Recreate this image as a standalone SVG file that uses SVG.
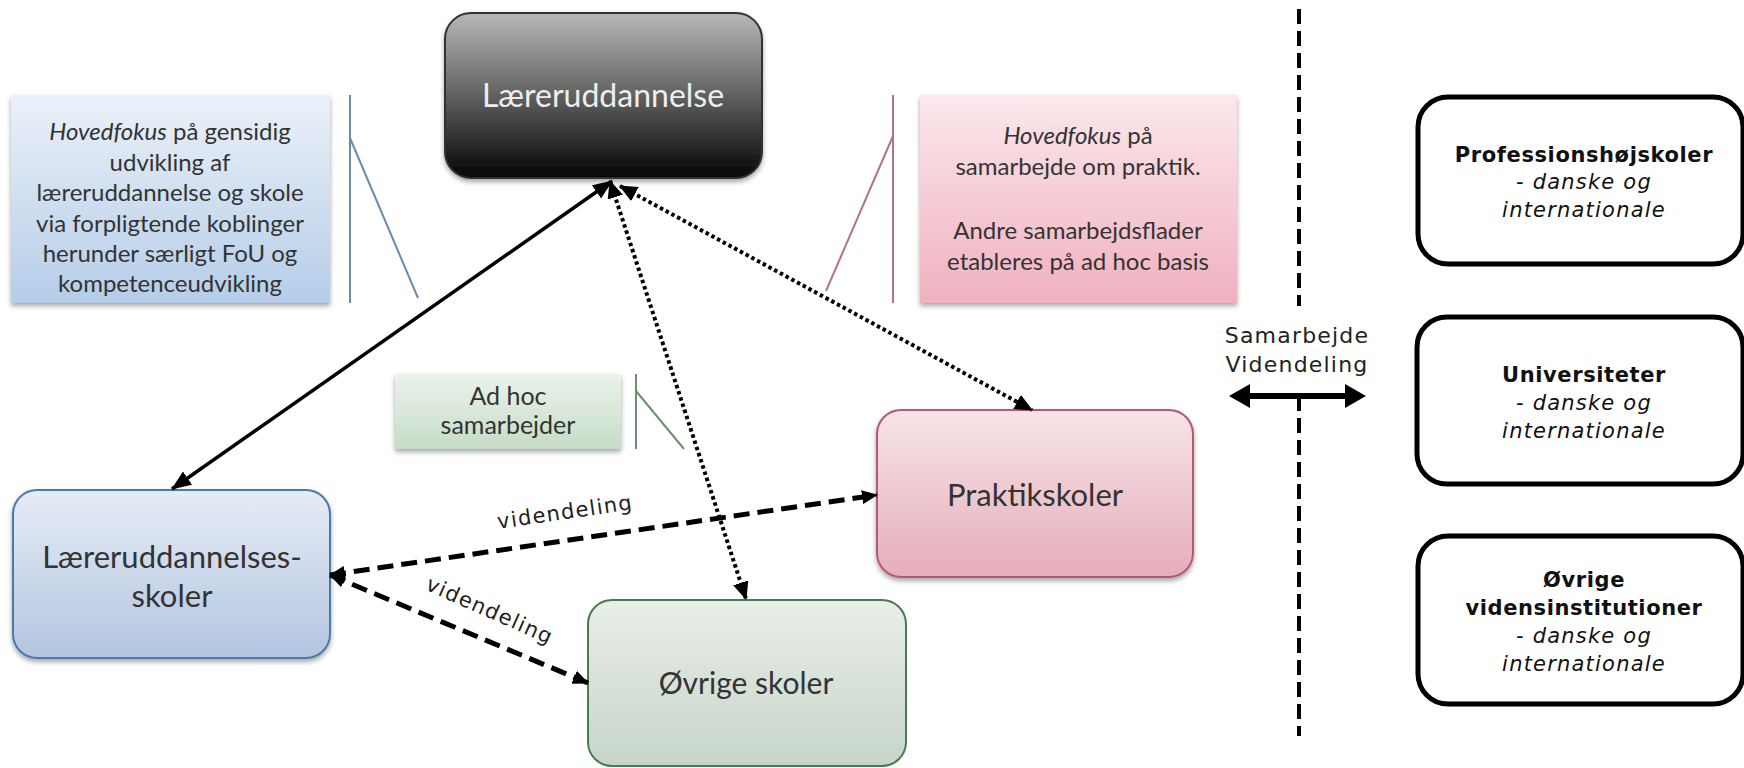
<svg xmlns="http://www.w3.org/2000/svg" width="1744" height="768" viewBox="0 0 1744 768">
<defs>
<linearGradient id="gBlack" x1="0" y1="0" x2="0" y2="1"><stop offset="0" stop-color="#b8b8b8"/><stop offset="0.45" stop-color="#6a6a6a"/><stop offset="1" stop-color="#050505"/></linearGradient>
<linearGradient id="gBlue" x1="0" y1="0" x2="0" y2="1"><stop offset="0" stop-color="#e6ecf6"/><stop offset="1" stop-color="#b2c5e0"/></linearGradient>
<linearGradient id="gPink" x1="0" y1="0" x2="0" y2="1"><stop offset="0" stop-color="#f7e4e8"/><stop offset="1" stop-color="#e6adb9"/></linearGradient>
<linearGradient id="gGreen" x1="0" y1="0" x2="0" y2="1"><stop offset="0" stop-color="#e9eee9"/><stop offset="1" stop-color="#c7d5c8"/></linearGradient>
<linearGradient id="nBlue" x1="0" y1="0" x2="0" y2="1"><stop offset="0" stop-color="#ebf1f9"/><stop offset="1" stop-color="#b5cde8"/></linearGradient>
<linearGradient id="nPink" x1="0" y1="0" x2="0" y2="1"><stop offset="0" stop-color="#fbe8ec"/><stop offset="1" stop-color="#f0b1bf"/></linearGradient>
<linearGradient id="nGreen" x1="0" y1="0" x2="0" y2="1"><stop offset="0" stop-color="#ecf3ec"/><stop offset="1" stop-color="#c5dcc6"/></linearGradient>
<filter id="sh" x="-10%" y="-10%" width="125%" height="130%"><feDropShadow dx="0" dy="3" stdDeviation="2.5" flood-color="#000" flood-opacity="0.35"/></filter>
<marker id="aS" viewBox="0 0 20 16" refX="19" refY="8" markerWidth="20" markerHeight="16" markerUnits="userSpaceOnUse" orient="auto-start-reverse"><path d="M0,0 L20,8 L0,16 z" fill="#000"/></marker>
<marker id="aD" viewBox="0 0 18 16" refX="17" refY="8" markerWidth="18" markerHeight="16" markerUnits="userSpaceOnUse" orient="auto-start-reverse"><path d="M0,0 L18,8 L0,16 z" fill="#000"/></marker>
<marker id="aE" viewBox="0 0 16 14" refX="15" refY="7" markerWidth="16" markerHeight="14" markerUnits="userSpaceOnUse" orient="auto-start-reverse"><path d="M0,0 L16,7 L0,14 z" fill="#000"/></marker>
</defs>
<style>
.lt{font-family:Lato,"Open Sans",sans-serif;fill:#333;text-anchor:middle}
.node{font-size:31px}
.note{font-size:24px}
.rt{font-family:"DejaVu Sans","Open Sans",sans-serif;fill:#111;text-anchor:middle}
.rb{font-size:21px;font-weight:bold;letter-spacing:0.6px}
.ri{font-size:21px;font-style:italic;letter-spacing:1.2px}
.lbl{font-family:"DejaVu Sans","Open Sans",sans-serif;fill:#222;text-anchor:middle;font-size:21px;letter-spacing:1.3px}
.rbox{fill:#fff;stroke:#000;stroke-width:5}
.solid{fill:none;stroke:#000;stroke-width:3.5}
.dot{fill:none;stroke:#000;stroke-width:4;stroke-dasharray:3.5 3}
.dash{fill:none;stroke:#000;stroke-width:5;stroke-dasharray:16 8}
</style>

<g id="note-blue">
<rect x="11" y="95" width="319" height="208" fill="url(#nBlue)" filter="url(#sh)"/>
<text class="lt note"><tspan x="170" y="140"><tspan font-style="italic">Hovedfokus</tspan> på gensidig</tspan><tspan x="170" y="170.5">udvikling af</tspan><tspan x="170" y="201">læreruddannelse og skole</tspan><tspan x="170" y="231.5">via forpligtende koblinger</tspan><tspan x="170" y="262">herunder særligt FoU og</tspan><tspan x="170" y="292">kompetenceudvikling</tspan></text>
<path d="M350,95 V303 M350,138 L418,298" fill="none" stroke="#6a8bb0" stroke-width="2"/>
</g>

<g id="note-pink">
<rect x="920" y="95" width="317" height="208" fill="url(#nPink)" filter="url(#sh)"/>
<text class="lt note"><tspan x="1078" y="144"><tspan font-style="italic">Hovedfokus</tspan> på</tspan><tspan x="1078" y="175">samarbejde om praktik.</tspan><tspan x="1078" y="239">Andre samarbejdsflader</tspan><tspan x="1078" y="270">etableres på ad hoc basis</tspan></text>
<path d="M893,95 V303 M893,136 L826,291" fill="none" stroke="#b07484" stroke-width="2"/>
</g>

<g id="note-green">
<rect x="395" y="374" width="226" height="75" fill="url(#nGreen)" filter="url(#sh)"/>
<text class="lt" font-size="25"><tspan x="508" y="405">Ad hoc</tspan><tspan x="508" y="434">samarbejder</tspan></text>
<path d="M636,374 V449 M636,391 L684,449" fill="none" stroke="#6f9070" stroke-width="2"/>
</g>

<g id="node-laereruddannelse">
<rect x="445" y="13" width="317" height="165" rx="26" fill="url(#gBlack)" stroke="#333" stroke-width="2" filter="url(#sh)"/>
<text class="lt" font-size="32" x="603" y="107" style="fill:#eeeeee">Læreruddannelse</text>
</g>

<g id="node-lus">
<rect x="13" y="490" width="317" height="168" rx="24" fill="url(#gBlue)" stroke="#4e79a6" stroke-width="2" filter="url(#sh)"/>
<text class="lt node"><tspan x="172" y="568">Læreruddannelses-</tspan><tspan x="172" y="607">skoler</tspan></text>
</g>

<g id="node-praktik">
<rect x="877" y="410" width="316" height="167" rx="24" fill="url(#gPink)" stroke="#b35a70" stroke-width="2" filter="url(#sh)"/>
<text class="lt node" x="1035" y="506">Praktikskoler</text>
</g>

<g id="node-ovrige">
<rect x="588" y="600" width="318" height="166" rx="24" fill="url(#gGreen)" stroke="#4b7a52" stroke-width="2"/>
<text class="lt" font-size="30" x="746" y="694">Øvrige skoler</text>
</g>

<g id="node-prof">
<rect class="rbox" x="1418" y="97" width="325" height="167" rx="30"/>
<text class="rt"><tspan class="rb" x="1584" y="162">Professionshøjskoler</tspan><tspan class="ri" x="1584" y="189">- danske og</tspan><tspan class="ri" x="1584" y="217">internationale</tspan></text>
</g>

<g id="node-uni">
<rect class="rbox" x="1417" y="317" width="326" height="167" rx="30"/>
<text class="rt"><tspan class="rb" x="1584" y="382">Universiteter</tspan><tspan class="ri" x="1584" y="410">- danske og</tspan><tspan class="ri" x="1584" y="438">internationale</tspan></text>
</g>

<g id="node-vidensinst">
<rect class="rbox" x="1418" y="536" width="325" height="168" rx="30"/>
<text class="rt"><tspan class="rb" x="1584" y="587">Øvrige</tspan><tspan class="rb" x="1584" y="615">vidensinstitutioner</tspan><tspan class="ri" x="1584" y="643">- danske og</tspan><tspan class="ri" x="1584" y="671">internationale</tspan></text>
</g>

<g id="connectors">
<path class="solid" d="M172,489 L612,181" marker-start="url(#aS)" marker-end="url(#aS)"/>
<path class="dot" d="M610,181 L746,599" marker-start="url(#aD)" marker-end="url(#aD)"/>
<path class="dot" d="M620,186 L1032,410" marker-start="url(#aD)" marker-end="url(#aD)"/>
<path class="dash" d="M330,575 L877,495" marker-start="url(#aE)" marker-end="url(#aE)"/>
<path class="dash" d="M330,575 L588,683" marker-start="url(#aE)" marker-end="url(#aE)"/>
<text class="lbl" transform="translate(566,519) rotate(-8.3)">videndeling</text>
<text class="lbl" transform="translate(487,617) rotate(24)">videndeling</text>
<path d="M1299,9 V306 M1299,396 V736" fill="none" stroke="#000" stroke-width="4" stroke-dasharray="15 7"/>
<path d="M1246,396 H1348" stroke="#000" stroke-width="6" fill="none"/>
<path d="M1229,396 L1250,384 L1250,408 z M1366,396 L1345,384 L1345,408 z" fill="#000"/>
<text class="lbl" style="font-size:22px;letter-spacing:1.2px"><tspan x="1297" y="343">Samarbejde</tspan><tspan x="1297" y="372">Videndeling</tspan></text>
</g>
</svg>
